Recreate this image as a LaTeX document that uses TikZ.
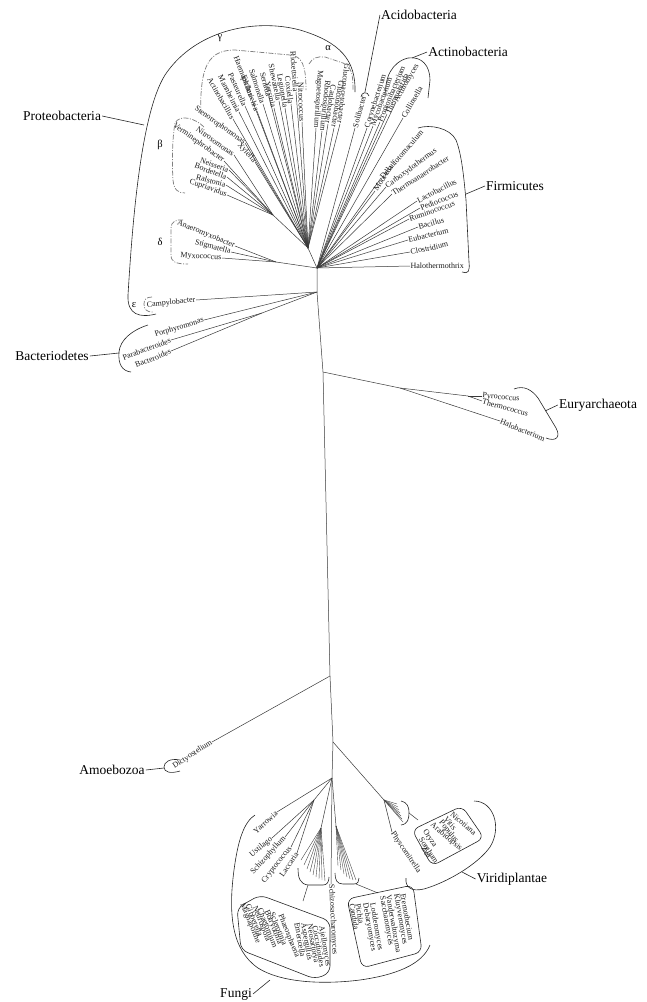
\documentclass[tikz,border=0pt]{standalone}
\usepackage{fontspec}
\setmainfont{Liberation Serif}
\newcommand\lfL[5]{\node[ls,rotate=#3] (#1) at (#2) {#4}; \draw[cl] (#5) -- (#1.east);}
\newcommand\lfR[5]{\node[rs,rotate=#3] (#1) at (#2) {#4}; \draw[cl] (#5) -- (#1.west);}
\begin{document}
\begin{tikzpicture}[x=1pt,y=-1pt,
  br/.style={line width=0.6pt, draw=black!85},
  dbr/.style={line width=0.75pt, draw=black!50, dash pattern=on 5pt off 1.5pt on 1pt off 1.5pt},
  cl/.style={line width=0.5pt, draw=black!78},
  fan/.style={line width=0.4pt, draw=black!72},
  sp/.style={font=\fontsize{8}{9}\selectfont, inner sep=0.4pt, text=black!90},
  rs/.style={sp, anchor=west},
  ls/.style={sp, anchor=east},
  bx/.style={sp, anchor=west},
  grp/.style={font=\fontsize{13.5}{15}\selectfont, inner sep=1pt},
  gk/.style={font=\fontsize{10.5}{11}\selectfont, inner sep=0.5pt}
]
\useasboundingbox (0,0) rectangle (646,1002);
% ---------- internal points and trunk ----------
\coordinate (H0) at (317,268);
\coordinate (P) at (308,248);
\coordinate (Bb) at (273,215);
\coordinate (D) at (276,262);
\coordinate (T1) at (317,292);
\coordinate (Bd) at (262,313);
\coordinate (T2) at (323,372);
\coordinate (EU) at (400,388);
\coordinate (PT) at (468,396);
\coordinate (T3) at (330,676);
\coordinate (T4) at (333,742);
\coordinate (F) at (332,778);
\coordinate (VP) at (384,800);
\coordinate (Bs) at (314,800);
\coordinate (PzA) at (321,828);
\coordinate (ScA) at (336,826);
\draw[cl] (P) -- (H0) -- (T1) -- (T2) -- (T3) -- (T4) -- (F);
\draw[cl] (P) -- (Bb);
\draw[cl] (H0) -- (D);
\draw[cl] (T1) -- (Bd);
\draw[cl] (T2) -- (EU) -- (PT);
\draw[cl] (T4) -- (VP);
\draw[cl] (F) -- (Bs);
\draw[cl] (F) -- (PzA);
\draw[cl] (F) -- (ScA);
% ---------- gamma ----------
\lfL{g1}{233,119}{-60}{Actinobacillus}{P}
\lfL{g2}{239,112}{-63}{Mannheimia}{P}
\lfL{g3}{245,106}{-66}{Pasteurella}{P}
\lfL{g4}{251,97}{-69}{Haemophilus}{P}
\lfL{g5}{257,111}{-70}{Escherichia}{P}
\lfL{g6}{263,104}{-72}{Salmonella}{P}
\lfL{g7}{269,97}{-75}{Serratia}{P}
\lfL{g8}{274,108}{-76}{Yersinia}{P}
\lfL{g9}{279,101}{-78}{Shewanella}{P}
\lfL{g10}{285,108}{-80}{Legionella}{P}
\lfL{g11}{291,104}{-83}{Coxiella}{P}
\lfL{g12}{296,92}{-86}{Rickettsiella}{P}
\lfL{g13}{302,122}{-88}{Nitrococcus}{P}
\lfL{g14}{245,143}{-35}{Stenotrophomonas}{P}
\lfL{g15}{255,162}{-48}{Xylella}{P}
% ---------- alpha ----------
\lfL{a1}{316,128}{-94}{Magnetospirillum}{P}
\lfL{a2}{322,131}{-96}{Rhodospirillum}{P}
\lfL{a3}{328,124}{-98}{Caulobacter}{P}
\lfL{a4}{334,128}{-99}{Gluconobacter}{P}
\lfL{a5}{340,124}{-97}{Gluconacetobacter}{P}
% ---------- beta ----------
\lfL{b1}{234,155}{-36}{Nitrosomonas}{Bb}
\lfL{b2}{224,161}{-36}{Verminephrobacter}{Bb}
\lfL{b3}{229,170}{-20}{Neisseria}{Bb}
\lfL{b4}{227,177}{-20}{Bordetella}{Bb}
\lfL{b5}{226,185}{-16}{Ralstonia}{Bb}
\lfL{b6}{227,195}{-20}{Cupriavidus}{Bb}
% ---------- delta, epsilon ----------
\lfL{d1}{235,246}{-22}{Anaeromyxobacter}{D}
\lfL{d2}{231,252}{-15}{Stigmatella}{D}
\lfL{d3}{222,258}{-3}{Myxococcus}{D}
\lfL{e1}{196,300}{6}{Campylobacter}{T1}
% ---------- Bacteroidetes ----------
\lfL{c1}{204,320}{17}{Porphyromonas}{T1}
\lfL{c2}{171,340}{20}{Parabacteroides}{Bd}
\lfL{c3}{171,351}{22}{Bacteroides}{Bd}
% ---------- Acidobacteria, Actinobacteria ----------
\lfR{s1}{355,128}{75}{Solibacter}{H0}
\lfR{n1}{367,128}{72}{Corynebacterium}{H0}
\lfR{n2}{373,126}{70}{Mycobacterium}{H0}
\lfR{n3}{380,122}{67}{Propionibacterium}{H0}
\lfR{n4}{387,114}{64}{Thermobifida}{H0}
\lfR{n5}{396,102}{60}{Actinomyces}{H0}
\lfR{n6}{403,118}{60}{Collinsella}{H0}
% ---------- Firmicutes ----------
\lfR{f1}{381,178}{49}{Desulfotomaculum}{H0}
\lfR{f2}{375,191}{58}{Moorella}{H0}
\lfR{f3}{386,187}{36}{Carboxydothermus}{H0}
\lfR{f4}{392,194}{33}{Thermoanaerobacter}{H0}
\lfR{f5}{417,201}{27}{Lactobacillus}{H0}
\lfR{f6}{420,208}{21}{Pediococcus}{H0}
\lfR{f7}{409,219}{19}{Ruminococcus}{H0}
\lfR{f8}{418,227}{16}{Bacillus}{H0}
\lfR{f9}{408,240}{14}{Eubacterium}{H0}
\lfR{f10}{410,252}{12}{Clostridium}{H0}
\lfR{f11}{410,266}{0}{Halothermothrix}{H0}
% ---------- Euryarchaeota ----------
\lfR{u1}{482,396}{-5}{Pyrococcus}{PT}
\lfR{u2}{482,401}{-15}{Thermococcus}{PT}
\lfR{u3}{500,421}{-22}{Halobacterium}{EU}
% ---------- Amoebozoa ----------
\lfL{m1}{212,742}{33}{Dictyostelium}{T3}
% ---------- Fungi ----------
\lfL{y1}{277,812}{42}{Yarrowia}{F}
\lfL{k1}{272,838}{40}{Ustilago}{Bs}
\lfL{k2}{285,837}{48}{Schizophyllum}{Bs}
\lfL{k3}{291,847}{52}{Cryptococcus}{Bs}
\lfL{k4}{297,853}{56}{Laccaria}{Bs}
\lfR{z1}{331,884}{-87}{Schizosaccharomyces}{F}
\foreach \a/\b [count=\i] in {301/860,304/865,307/869,310/872,313/875,316/877,319/879,322/880,325/881}
  {\coordinate (pz\i) at (\a,\b); \draw[fan] (PzA) -- (pz\i);}
\foreach \a/\b [count=\i] in {338/866,341/870,344/874,347/877,350/879,353/880,356/880}
  {\coordinate (sc\i) at (\a,\b); \draw[fan] (ScA) -- (sc\i);}
\draw[br] (298,868) .. controls (298,878) and (300,884) .. (308,885) -- (323,885) .. controls (327,885) and (329,882) .. (329,877);
\draw[br] (335,873) .. controls (335,880) and (337,884) .. (343,884) -- (354,884) .. controls (358,884) and (359,881) .. (359,878);
\coordinate (pzB) at (308,885); \coordinate (pzT) at (303,901);
\coordinate (scB) at (356,884); \coordinate (scT) at (378,893);
\draw[cl] (pzB) -- (pzT);
\draw[cl] (scB) -- (scT);
% Pezizomycotina box
\draw[br, rounded corners=7pt] (237,908) -- (260,895) -- (330,921) -- (330,973) -- (315,979) -- (241,950) -- cycle;
\node[bx,rotate=-68] (p1) at (242,903) {Magnaporthe};
\node[bx,rotate=-68] (p2) at (248,904) {Gibberella};
\node[bx,rotate=-68] (p3) at (254,906) {Neurospora};
\node[bx,rotate=-68] (p4) at (260,908) {Chaetomium};
\node[bx,rotate=-68] (p5) at (266,910) {Botryotinia};
\node[bx,rotate=-68] (p6) at (272,912) {Sclerotinia};
\node[bx,rotate=-68] (p7) at (280,914) {Phaeosphaeria};
\node[bx,rotate=-80] (p8) at (297,922) {Emericella};
\node[bx,rotate=-80] (p9) at (303,923) {Aspergillus};
\node[bx,rotate=-80] (p10) at (309,924) {Neosartorya};
\node[bx,rotate=-80] (p11) at (315,925) {Coccidioides};
\node[bx,rotate=-80] (p12) at (321,926) {Ajellomyces};
% Saccharomycotina box
\draw[br, rounded corners=7pt] (347,899) -- (413,885) -- (422,952) -- (362,968) -- cycle;
\node[bx,rotate=-80] (q1) at (352,903) {Candida};
\node[bx,rotate=-80] (q2) at (358,903) {Pichia};
\node[bx,rotate=-80] (q3) at (365,903) {Debaryomyces};
\node[bx,rotate=-80] (q4) at (372,903) {Lodderomyces};
\node[bx,rotate=-80] (q5) at (382,896) {Saccharomyces};
\node[bx,rotate=-80] (q6) at (388,895) {Vanderwaltozyma};
\node[bx,rotate=-80] (q7) at (396,894) {Kluyveromyces};
\node[bx,rotate=-80] (q8) at (403,893) {Eremothecium};
% ---------- Viridiplantae ----------
\foreach \a/\b [count=\i] in {397/804,398/807,399/810,400/813,401/816,402/819,403/822}
  {\coordinate (vf\i) at (\a,\b); \draw[fan] (VP) -- (vf\i);}
\draw[br] (401,801) .. controls (407,802) and (409,807) .. (409,812) .. controls (409,819) and (408,824) .. (401,825);
\coordinate (vfB) at (409,813); \coordinate (vfT) at (418,820);
\draw[cl] (vfB) -- (vfT);
\lfR{v0}{392,832}{-56}{Physcomitrella}{VP}
\draw[br, rounded corners=7pt] (412,830) -- (462,806) -- (484,838) -- (432,866) -- cycle;
\node[bx,rotate=-40] (v1) at (451,813) {Nicotiana};
\node[bx,rotate=-50] (v2) at (445,817) {Vitis};
\node[bx,rotate=-50] (v3) at (440,821) {Populus};
\node[bx,rotate=-40] (v4) at (431,824) {Arabidopsis};
\node[bx,rotate=-57] (v5) at (424,830) {Oryza};
\node[bx,rotate=-57] (v6) at (420,838) {Sorghum};
\node[bx,rotate=-57] (v7) at (423,847) {Zea};
% ---------- brackets ----------
\draw[br] (355,92) .. controls (356,60) and (340,42) .. (300,30) .. controls (255,18) and (195,30) .. (165,75) .. controls (140,115) and (132,230) .. (128,295) .. controls (127,315) and (140,318) .. (156,314);
\draw[dbr] (201,114) .. controls (200,95) and (202,78) .. (205,70) .. controls (210,55) and (220,50) .. (235,50) -- (290,55) .. controls (302,56) and (306,65) .. (306,90);
\draw[dbr] (309,64) .. controls (312,58) and (318,56) .. (325,57) -- (343,63) .. controls (352,67) and (353,75) .. (353,90);
\draw[dbr] (204,127) .. controls (195,118) and (180,114) .. (175,123) .. controls (172,140) and (172,165) .. (173,180) .. controls (174,190) and (178,193) .. (185,193);
\draw[dbr] (183,220) .. controls (176,219) and (171,222) .. (171,228) -- (171,255) .. controls (171,262) and (176,264) .. (188,264);
\draw[dbr] (152,297) .. controls (146,297) and (144,300) .. (144,304) .. controls (144,309) and (146,312) .. (153,312);
\draw[br] (361,97) .. controls (361,92) and (368,91) .. (369,96);
\draw[br] (386,96) .. controls (384,78) and (392,62) .. (408,58) .. controls (422,56) and (430,66) .. (430,80) -- (428,98);
\draw[br] (418,128) .. controls (430,124) and (450,128) .. (456,140) .. controls (462,155) and (464,180) .. (466,200) -- (469,262) .. controls (470,272) and (468,274) .. (462,272);
\draw[br] (148,325) .. controls (132,330) and (120,340) .. (119,352) .. controls (118,364) and (122,371) .. (131,372);
\draw[br] (514,389) .. controls (524,385) and (532,390) .. (538,398) -- (556,428) .. controls (561,437) and (556,442) .. (546,438);
\draw[br] (180,760) .. controls (170,758) and (164,762) .. (164,767) .. controls (164,772) and (170,774) .. (180,771);
\draw[br] (255,815) .. controls (244,822) and (238,840) .. (234,870) .. controls (228,915) and (232,950) .. (258,968) .. controls (280,982) and (320,985) .. (360,980) .. controls (395,975) and (422,965) .. (430,945);
\draw[br] (474,801) .. controls (494,801) and (502,828) .. (490,847) .. controls (478,864) and (448,882) .. (424,889) .. controls (411,892) and (405,887) .. (406,878);
% ---------- greek letters ----------
\node[gk] (gam) at (220,38) {γ};
\node[gk] (alp) at (328,48) {α};
\node[gk] (bet) at (160,145) {β};
\node[gk] (del) at (160,242) {δ};
\node[gk] (eps) at (134,305) {ε};
% ---------- group labels ----------
\node[grp] (proteo) at (62,116) {Proteobacteria};
\coordinate (proteoB) at (144,125);
\draw[br] (proteo.east) -- (proteoB);
\node[grp] (acido) at (419,15) {Acidobacteria};
\coordinate (acidoB) at (365,92);
\draw[br] (acido.west) -- (acidoB);
\node[grp] (actino) at (468,52) {Actinobacteria};
\coordinate (actinoB) at (412,58);
\draw[br] (actino.west) -- (actinoB);
\node[grp] (firm) at (515,186) {Firmicutes};
\coordinate (firmB) at (466,194);
\draw[br] (firm.west) -- (firmB);
\node[grp] (bact) at (52,356) {Bacteriodetes};
\coordinate (bactB) at (119,353);
\draw[br] (bact.east) -- (bactB);
\node[grp] (eury) at (598,405) {Euryarchaeota};
\coordinate (euryB) at (545,411);
\draw[br] (eury.west) -- (euryB);
\node[grp] (amoe) at (112,770) {Amoebozoa};
\coordinate (amoeB) at (164,768);
\draw[br] (amoe.east) -- (amoeB);
\node[grp] (fungi) at (236,994) {Fungi};
\coordinate (fungiB) at (270,980);
\draw[br] (fungi.east) -- (fungiB);
\node[grp] (viri) at (512,879) {Viridiplantae};
\coordinate (viriB) at (462,872);
\draw[br] (viri.west) -- (viriB);
\end{tikzpicture}
\end{document}
